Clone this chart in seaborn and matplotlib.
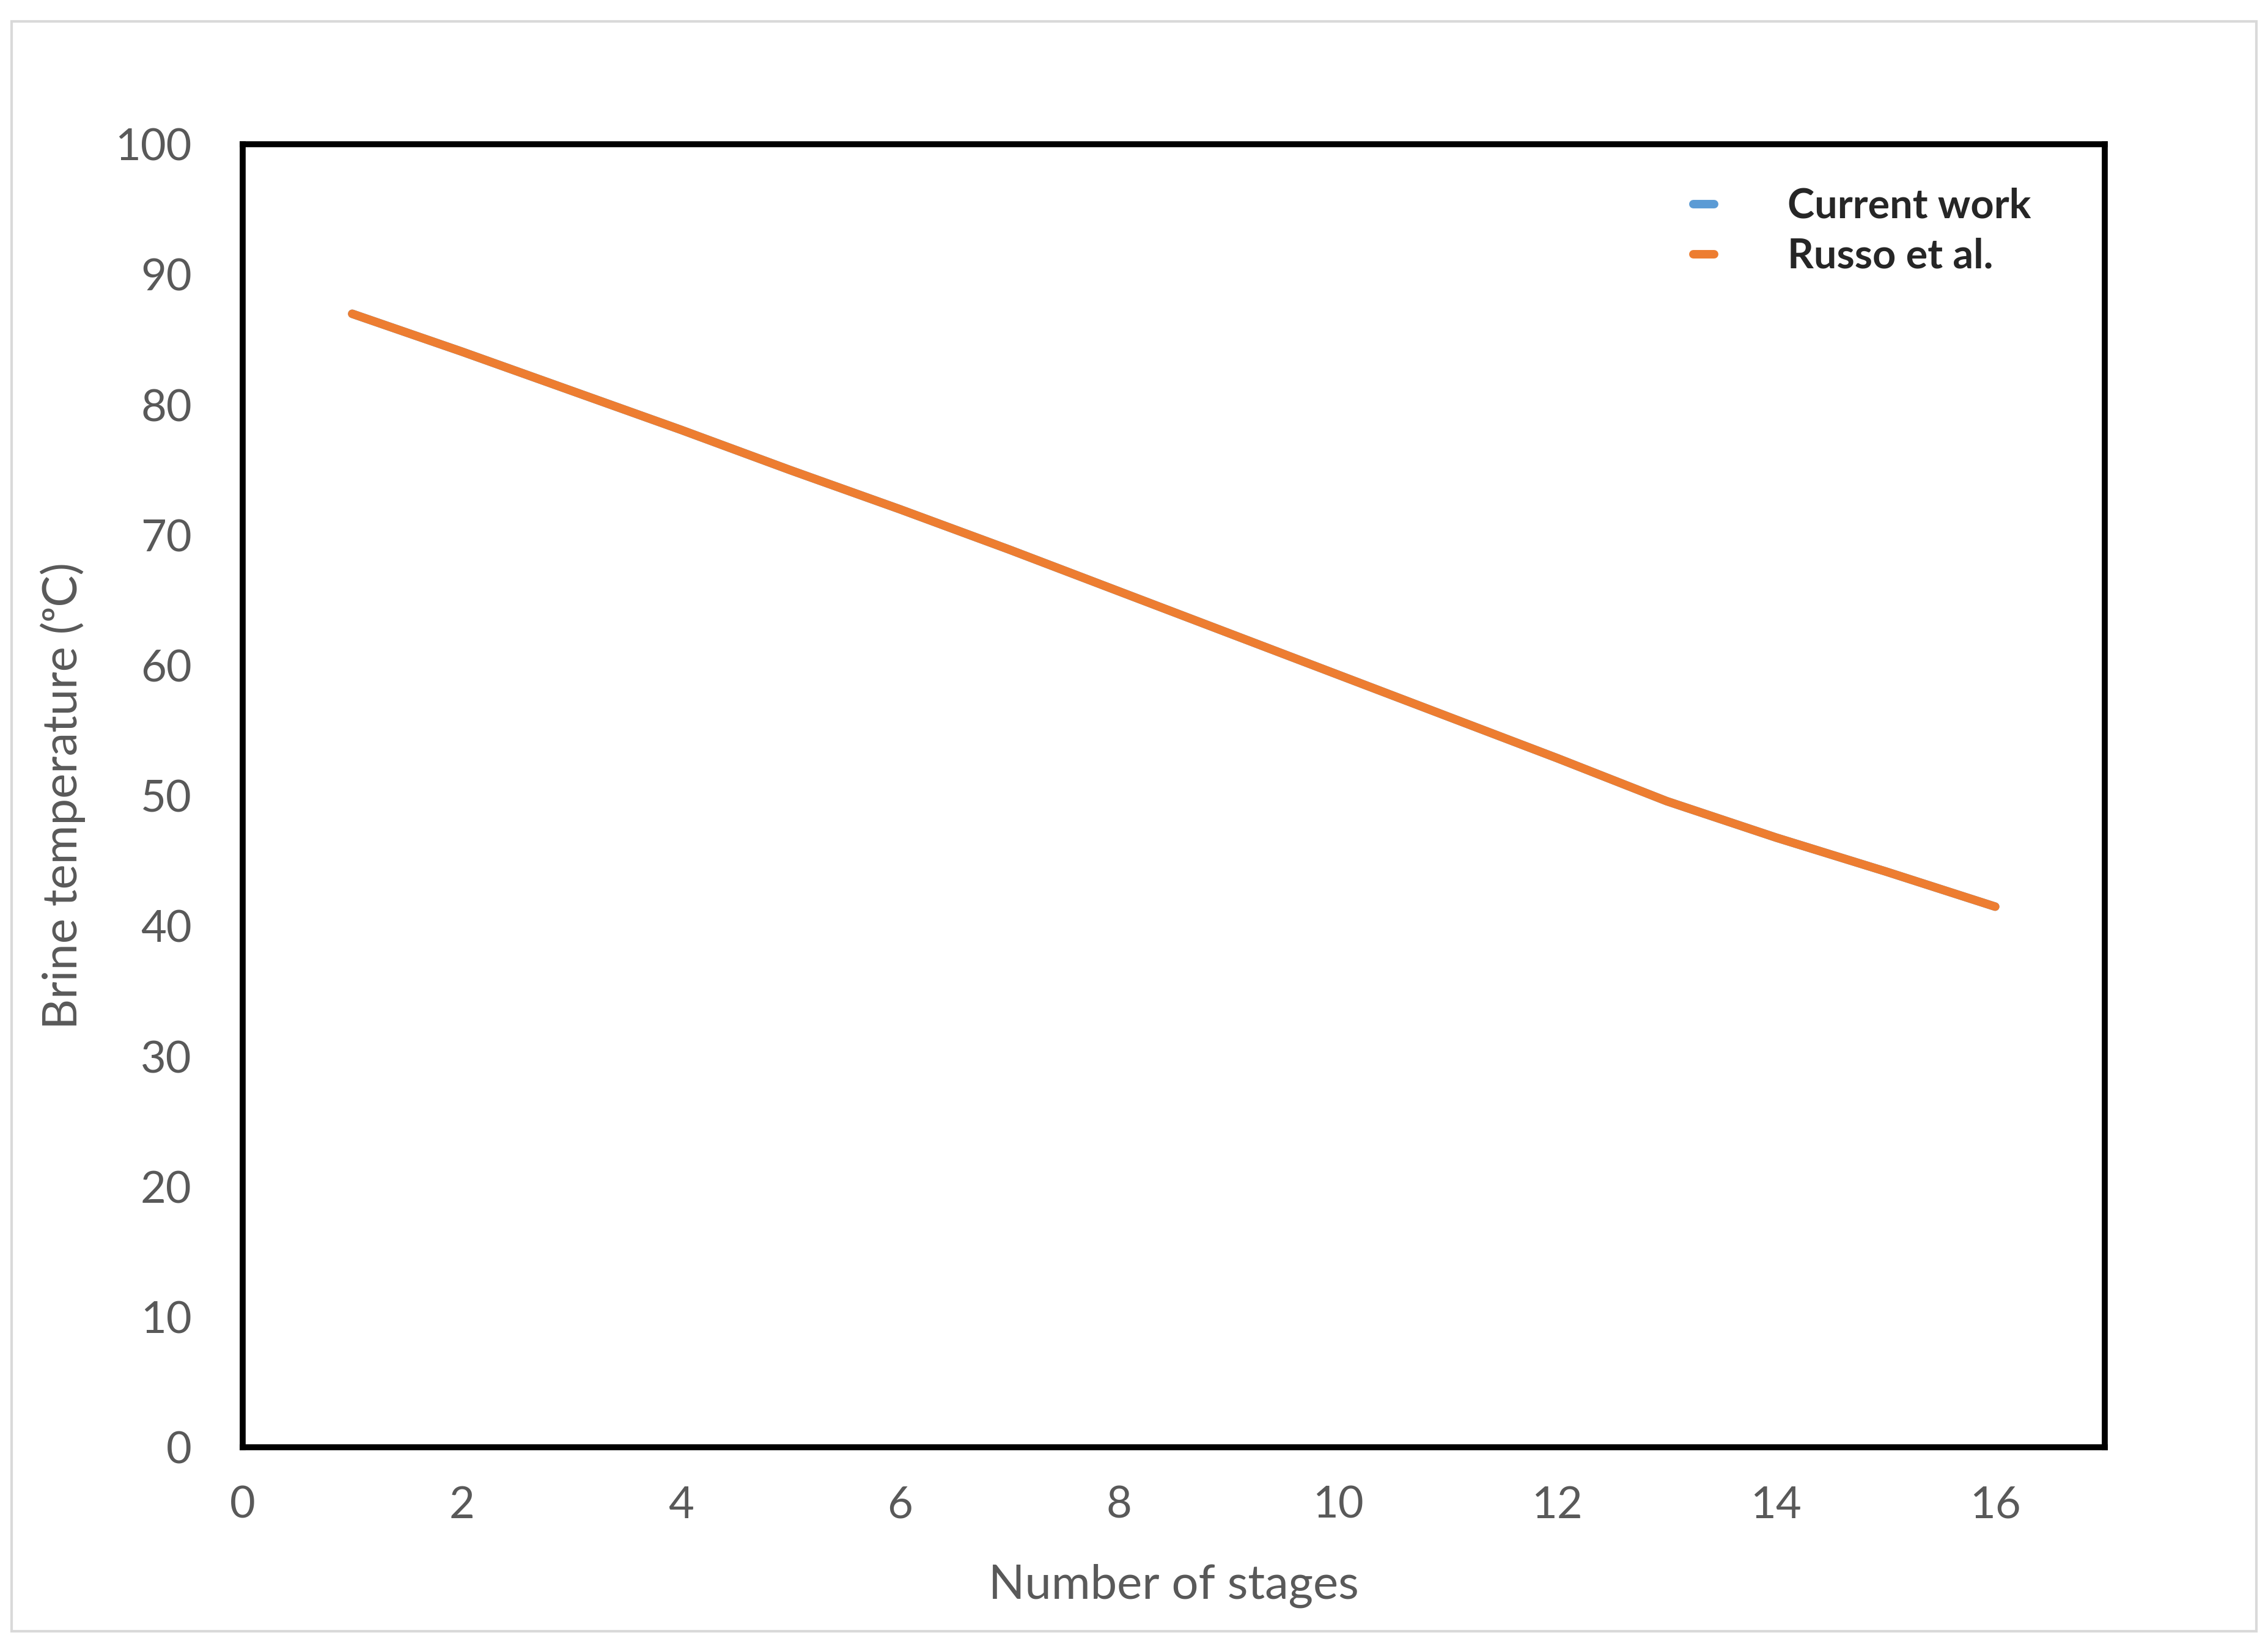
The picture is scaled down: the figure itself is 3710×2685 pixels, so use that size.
import pandas as pd
import matplotlib
matplotlib.use("Agg")
import matplotlib.pyplot as plt
import seaborn as sns
from matplotlib.patches import Rectangle

# Data
stages = list(range(1, 17))
current_work = [87.0, 84.1, 81.1, 78.1, 75.0, 72.0, 68.9, 65.7, 62.5, 59.3, 56.1, 52.9, 49.6, 46.8, 44.2, 41.5]
russo = [87.0, 84.1, 81.1, 78.1, 75.0, 72.0, 68.9, 65.7, 62.5, 59.3, 56.1, 52.9, 49.6, 46.8, 44.2, 41.5]

df = pd.concat([
    pd.DataFrame({"stage": stages, "temp": current_work, "series": "Current work"}),
    pd.DataFrame({"stage": stages, "temp": russo, "series": "Russo et al."}),
])

sns.set_theme(style="white")
plt.rcParams['font.family'] = ['Lato', 'DejaVu Sans']

fig = plt.figure(figsize=(37.1, 26.85), dpi=100)
ax = fig.add_axes([0.107, 0.118, 0.821, 0.794])
fig.patches.append(Rectangle((0.005, 0.006), 0.99, 0.981, transform=fig.transFigure,
                             fill=False, edgecolor="#d9d9d9", linewidth=3))

sns.lineplot(data=df, x="stage", y="temp", hue="series",
             palette={"Current work": "#5b9bd5", "Russo et al.": "#ed7d31"},
             linewidth=10, ax=ax, solid_capstyle="round")

ax.set_xlim(0, 17)
ax.set_ylim(0, 100)
ax.set_xticks(range(0, 17, 2))
ax.set_yticks(range(0, 101, 10))
ax.tick_params(labelsize=52, labelcolor="#595959", length=0)
ax.tick_params(axis="x", pad=45)
ax.tick_params(axis="y", pad=60)
for s in ax.spines.values():
    s.set_color("black")
    s.set_linewidth(7)
ax.set_xlabel("Number of stages", fontsize=56, color="#595959", labelpad=45)
ax.set_ylabel("Brine temperature (ᵒC)", fontsize=56, color="#595959", labelpad=35)

leg = ax.legend(loc="upper right", bbox_to_anchor=(0.98, 0.995), frameon=False,
                prop={"size": 48, "weight": "bold"}, handlelength=0.5,
                handletextpad=1.8, labelspacing=0.3)
for line in leg.get_lines():
    line.set_linewidth(10)

fig.savefig("out.png", dpi=100)
